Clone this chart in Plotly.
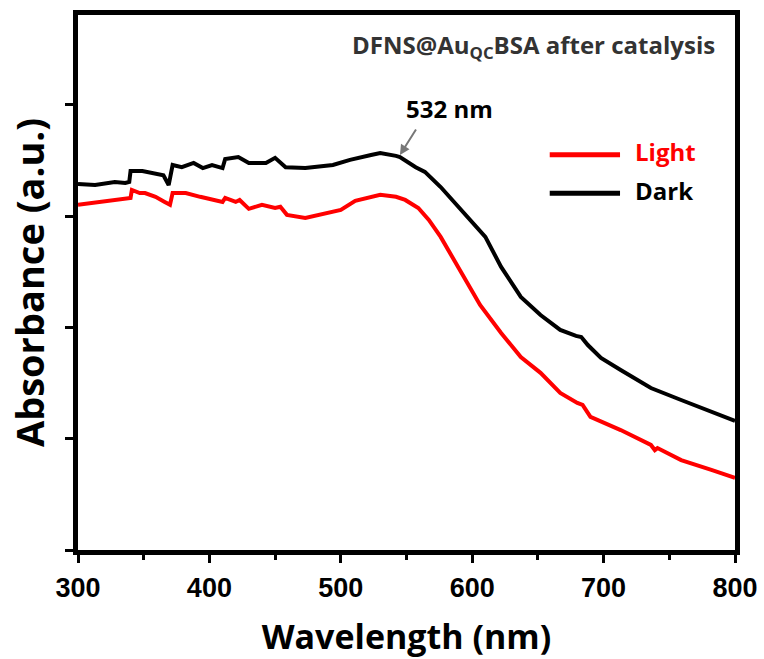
import plotly.graph_objects as go

# Wavelength (nm) and absorbance (a.u.)
dark_wl = [300, 313, 328, 336, 339, 340, 349, 359, 365, 369, 372, 379, 388, 395, 402, 410, 412,
           422, 430, 443, 450, 458, 473, 494, 507, 523, 530, 542, 545, 557, 564, 576, 587, 599,
           610, 622, 637, 652, 667, 679, 683, 688, 698, 713, 736, 759, 782, 800]
dark_abs = [1.645, 1.640, 1.654, 1.649, 1.654, 1.703, 1.703, 1.693, 1.684, 1.640, 1.730, 1.720,
            1.739, 1.716, 1.730, 1.716, 1.757, 1.766, 1.739, 1.739, 1.762, 1.720, 1.716, 1.730,
            1.753, 1.775, 1.784, 1.771, 1.766, 1.720, 1.699, 1.631, 1.560, 1.483, 1.407, 1.272,
            1.137, 1.056, 0.989, 0.962, 0.957, 0.921, 0.863, 0.809, 0.728, 0.674, 0.620, 0.580]

light_wl = [300, 313, 336, 340, 341, 347, 351, 359, 366, 370, 372, 382, 393, 402, 410, 412, 420,
            423, 430, 440, 450, 454, 459, 473, 484, 500, 511, 523, 530, 542, 549, 559, 567, 576,
            584, 595, 606, 622, 637, 652, 667, 680, 684, 690, 713, 736, 739, 741, 759, 782, 800]
light_abs = [1.551, 1.560, 1.578, 1.582, 1.618, 1.604, 1.604, 1.587, 1.564, 1.551, 1.604, 1.604,
             1.587, 1.573, 1.564, 1.582, 1.564, 1.573, 1.533, 1.551, 1.537, 1.542, 1.506, 1.492,
             1.506, 1.528, 1.569, 1.587, 1.596, 1.587, 1.573, 1.537, 1.483, 1.407, 1.326, 1.213,
             1.101, 0.975, 0.867, 0.796, 0.706, 0.661, 0.652, 0.598, 0.539, 0.472, 0.449, 0.458,
             0.404, 0.360, 0.324]

x_ticks = [300, 400, 500, 600, 700, 800]
y_ticks = [0, 0.5, 1.0, 1.5, 2.0]

fig = go.Figure()
fig.add_trace(go.Scatter(x=light_wl, y=light_abs, mode="lines", name="Light",
                         line=dict(color="#ff0000", width=4), showlegend=False))
fig.add_trace(go.Scatter(x=dark_wl, y=dark_abs, mode="lines", name="Dark",
                         line=dict(color="#000000", width=4), showlegend=False))

axis_common = dict(showline=True, linecolor="black", linewidth=5, mirror=True,
                   showgrid=False, zeroline=False, ticks="outside", tickcolor="black",
                   tickwidth=3, ticklen=8, automargin=False)

fig.update_xaxes(range=[300, 800], tickvals=x_ticks,
                 ticktext=[f"<b>{v}</b>" for v in x_ticks],
                 tickfont=dict(family="Liberation Sans, Arial", size=27, color="black"),
                 ticklabelstandoff=2,
                 minor=dict(ticks="outside", ticklen=5, tickwidth=3, tickcolor="black", dtick=50),
                 title=dict(text="<b>Wavelength (nm)</b>",
                            font=dict(family="Open Sans", size=34, color="black"), standoff=29),
                 **axis_common)
fig.update_yaxes(range=[0, 2.404], tickvals=y_ticks, showticklabels=False,
                 title=dict(text="<b>Absorbance (a.u.)</b>",
                            font=dict(family="Open Sans", size=38, color="black"), standoff=10),
                 **axis_common)

# Panel title
fig.add_annotation(x=0.414, y=0.94, xref="paper", yref="paper", xanchor="left", yshift=21,
                   text="<b>DFNS@Au<sub>QC</sub>BSA after catalysis</b>", showarrow=False,
                   font=dict(family="Open Sans", size=24, color="#333333"))
# Peak label and arrow
fig.add_annotation(x=0.565, y=0.822, xref="paper", yref="paper", text="<b>532 nm</b>",
                   showarrow=False, yshift=20,
                   font=dict(family="Open Sans", size=24, color="black"))
fig.add_annotation(x=545, y=1.775, xref="x", yref="y", text="", showarrow=True,
                   ax=17, ay=-27, arrowhead=2, arrowsize=1, arrowwidth=2, arrowcolor="#777777")

# Legend drawn manually
fig.add_shape(type="line", xref="paper", yref="paper", x0=0.718, x1=0.825, y0=0.739, y1=0.739,
              line=dict(color="#ff0000", width=5))
fig.add_shape(type="line", xref="paper", yref="paper", x0=0.718, x1=0.825, y0=0.667, y1=0.667,
              line=dict(color="#000000", width=5))
fig.add_annotation(x=0.845, y=0.745, xref="paper", yref="paper", text="<b>Light</b>",
                   showarrow=False, xanchor="left", yshift=18,
                   font=dict(family="Open Sans", size=24, color="#ff0000"))
fig.add_annotation(x=0.845, y=0.673, xref="paper", yref="paper", text="<b>Dark</b>",
                   showarrow=False, xanchor="left", yshift=18,
                   font=dict(family="Open Sans", size=24, color="black"))

fig.update_layout(width=764, height=659, margin=dict(l=78, r=29, t=15, b=109),
                  plot_bgcolor="white", paper_bgcolor="white")

fig.write_html("out.html")
